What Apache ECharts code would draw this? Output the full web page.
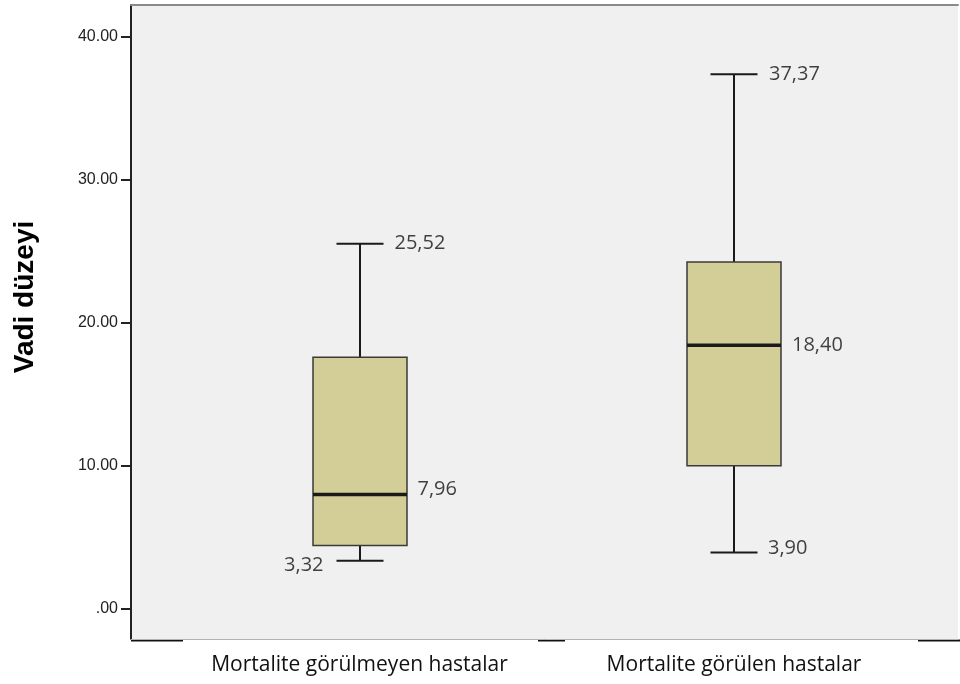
<!DOCTYPE html>
<html>
<head>
<meta charset="utf-8">
<script src="https://cdn.jsdelivr.net/npm/echarts@6/dist/echarts.min.js"></script>
<style>
  html, body { margin: 0; padding: 0; background: #fff; }
  #chart { width: 960px; height: 684px; }
</style>
</head>
<body>
<div id="chart"></div>
<script>
// gruplar
var categories = ['Mortalite görülmeyen hastalar', 'Mortalite görülen hastalar'];
// [min, Q1, medyan, Q3, max]
var boxMin = [3.32, 3.90];
var boxQ1 = [4.40, 9.97];
var boxMedian = [7.96, 18.40];
var boxQ3 = [17.56, 24.23];
var boxMax = [25.52, 37.37];
var yTicks = [0, 10, 20, 30, 40];
var yMin = -2.15, yMax = 42.22;

function fmtComma(v) { return v.toFixed(2).replace('.', ','); }
function fmtTick(v) { return v === 0 ? '.00' : v.toFixed(2); }

var boxData = categories.map(function (c, i) {
    return [i, boxMin[i], boxQ1[i], boxMedian[i], boxQ3[i], boxMax[i]];
});

// etiketler
var labelData = [];
categories.forEach(function (c, i) {
    labelData.push({ value: [i, boxMax[i]], label: { position: 'right', distance: 35 } });
    labelData.push({ value: [i, boxMedian[i]], label: { position: 'right', distance: 11 + 47, offset: [0, i === 0 ? -5 : 0] } });
    if (i === 0) {
        labelData.push({ value: [i, boxMin[i]], label: { position: 'left', distance: 36, offset: [0, 4] } });
    } else {
        labelData.push({ value: [i, boxMin[i]], label: { position: 'right', distance: 34, offset: [0, -4] } });
    }
});

var chart = echarts.init(document.getElementById('chart'));

var BOX_W = 94;

var option = {
    animation: false,
    backgroundColor: '#ffffff',
    grid: [
        { left: 131, right: 2, top: 5, bottom: 45, show: true, backgroundColor: '#f0f0f0', borderWidth: 0 },
        { left: 172.25, right: 38.75, top: 5, bottom: 45 }
    ],
    xAxis: [
        { gridIndex: 0, type: 'value', position: 'top', min: 0, max: 1,
          axisLine: { show: true, onZero: false, lineStyle: { color: '#8a8a8a', width: 2 } },
          axisTick: { show: false }, axisLabel: { show: false }, splitLine: { show: false } },
        { gridIndex: 0, type: 'value', position: 'bottom', min: 0, max: 1,
          axisLine: { show: true, onZero: false, lineStyle: { color: '#b4b4b4', width: 1 } },
          axisTick: { show: false }, axisLabel: { show: false }, splitLine: { show: false } },
        { gridIndex: 1, type: 'category', data: categories,
          axisLine: { show: false }, axisTick: { show: false },
          axisLabel: { interval: 0, hideOverlap: false, margin: 16,
                       fontFamily: 'Open Sans', fontSize: 21, color: '#111' } }
    ],
    yAxis: [
        { gridIndex: 0, type: 'value', min: yMin, max: yMax,
          name: 'Vadi düzeyi', nameLocation: 'middle', nameGap: 92, nameRotate: 90,
          nameTextStyle: { fontFamily: 'Liberation Sans', fontWeight: 'bold', fontSize: 28, color: '#000',
                           padding: [0, 0, 0, 50] },
          axisLine: { show: true, onZero: false, lineStyle: { color: '#222', width: 2 } },
          axisTick: { show: true, length: 10, customValues: yTicks, lineStyle: { color: '#222', width: 2 } },
          axisLabel: { customValues: yTicks, formatter: fmtTick, margin: 13,
                       fontFamily: 'Liberation Sans', fontSize: 16, color: '#222' },
          splitLine: { show: false } },
        { gridIndex: 1, type: 'value', min: yMin, max: yMax, show: false }
    ],
    series: [
        {
            type: 'custom',
            xAxisIndex: 2, yAxisIndex: 1,
            data: boxData,
            encode: { x: 0, y: [1, 2, 3, 4, 5] },
            renderItem: function (params, api) {
                var i = api.value(0);
                var pMin = api.coord([i, api.value(1)]);
                var pQ1 = api.coord([i, api.value(2)]);
                var pMed = api.coord([i, api.value(3)]);
                var pQ3 = api.coord([i, api.value(4)]);
                var pMax = api.coord([i, api.value(5)]);
                var cx = Math.round(pMed[0]);
                var hw = BOX_W / 2, cw = BOX_W / 4;
                var line = function (x1, y1, x2, y2, w) {
                    return { type: 'line', shape: { x1: x1, y1: y1, x2: x2, y2: y2 },
                             style: { stroke: '#1a1a1a', lineWidth: w } };
                };
                return {
                    type: 'group',
                    children: [
                        line(cx, pMax[1], cx, pQ3[1], 2),
                        line(cx, pQ1[1], cx, pMin[1], 2),
                        line(cx - cw, pMax[1], cx + cw, pMax[1], 2),
                        line(cx - cw, pMin[1], cx + cw, pMin[1], 2),
                        { type: 'rect',
                          shape: { x: cx - hw, y: pQ3[1], width: BOX_W, height: pQ1[1] - pQ3[1] },
                          style: { fill: '#d3ce98', stroke: '#3a3a3a', lineWidth: 1.5 } },
                        line(cx - hw, pMed[1], cx + hw, pMed[1], 3.5)
                    ]
                };
            }
        },
        {
            type: 'scatter',
            xAxisIndex: 2, yAxisIndex: 1,
            symbolSize: 0,
            data: labelData,
            label: {
                show: true,
                fontFamily: 'Open Sans', fontSize: 20, color: '#111',
                formatter: function (p) { return fmtComma(p.value[1]); }
            }
        }
    ],
    graphic: [
        { type: 'line', shape: { x1: 131, y1: 640.5, x2: 183, y2: 640.5 }, style: { stroke: '#111', lineWidth: 2 } },
        { type: 'line', shape: { x1: 538, y1: 640.5, x2: 565, y2: 640.5 }, style: { stroke: '#111', lineWidth: 2 } },
        { type: 'line', shape: { x1: 918, y1: 640.5, x2: 960, y2: 640.5 }, style: { stroke: '#111', lineWidth: 2 } }
    ]
};

chart.setOption(option);
</script>
</body>
</html>
